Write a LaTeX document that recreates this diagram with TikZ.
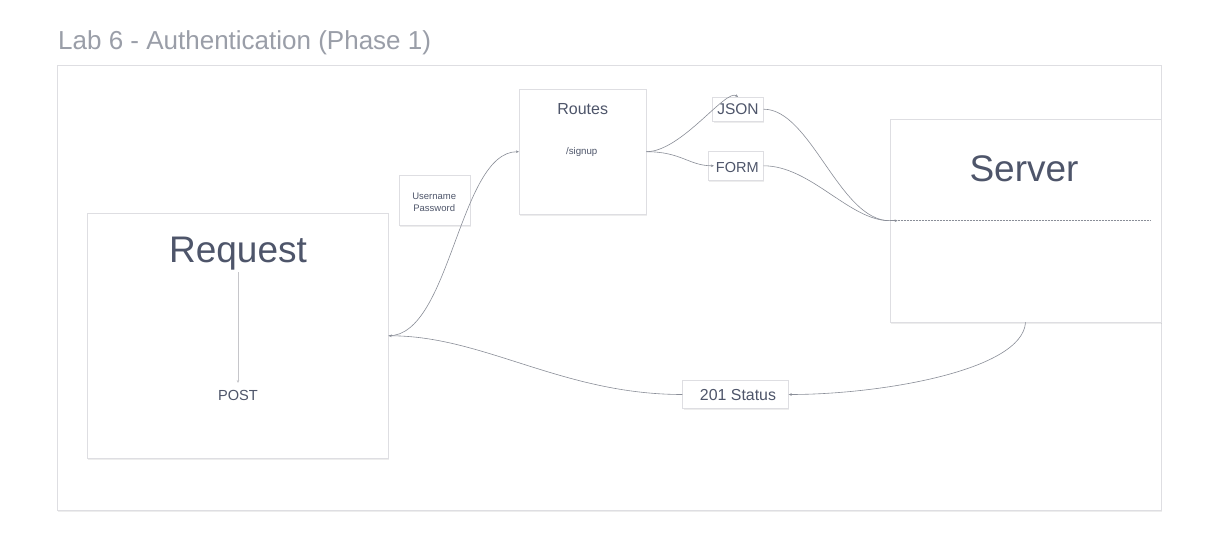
\documentclass[tikz,border=0pt]{standalone}
\usepackage{fontspec}
\setmainfont{Liberation Sans}
\usetikzlibrary{arrows.meta,shadows,calc}
\definecolor{ink}{HTML}{4E556A}
\definecolor{ttl}{HTML}{9A9EA8}
\definecolor{edgec}{HTML}{DEDEE2}
\definecolor{wirec}{HTML}{8A8E98}
\definecolor{postc}{HTML}{C6C6CA}
\newcommand{\fs}[1]{\fontsize{#1}{#1}\selectfont}
\begin{document}
\begin{tikzpicture}[x=1pt,y=-1pt,
  box/.style={draw=edgec, fill=white, line width=0.8pt, inner sep=0pt,
    drop shadow={opacity=0.14,shadow xshift=0.8pt,shadow yshift=-1.8pt}},
  txt/.style={text=ink, inner sep=0pt, anchor=base},
  wire/.style={draw=wirec, line width=0.6pt},
  tip/.style={-{Stealth[length=3pt,width=2.6pt]}}]
\useasboundingbox[fill=white] (0,0) rectangle (1212,556);

\node[anchor=base west, text=ttl, inner sep=0pt, font=\fs{26}] (title) at (58,49.3) {Lab 6 - Authentication (Phase 1)};

\node[box, minimum width=1104pt, minimum height=445pt] (frame) at (609,287.5) {};

\node[box, minimum width=301pt, minimum height=245pt] (req) at (237.8,335.8) {};
\node[box, minimum width=126.7pt, minimum height=124.7pt] (routes) at (582.7,151.7) {};
\node[box, minimum width=71.3pt, minimum height=49.3pt] (cred) at (434.7,200.3) {};
\node[box, minimum width=50.6pt, minimum height=23.7pt] (json) at (738,109.2) {};
\node[box, minimum width=55pt, minimum height=28.3pt] (form) at (735.8,165.8) {};
\node[box, minimum width=271pt, minimum height=202.7pt] (server) at (1025.5,220.7) {};
\node[box, minimum width=105.6pt, minimum height=27.6pt] (status) at (735.5,394.5) {};

\node[txt, font=\fs{37}] (reqt) at (238,262.3) {Request};
\node[txt, font=\fs{14.6}] (postt) at (238,400) {POST};
\node[txt, font=\fs{16}] (routest) at (582.7,115) {Routes};
\node[txt, font=\fs{9.7}] (signupt) at (581.7,155) {/signup};
\node[txt, font=\fs{9.5}] (usert) at (434.2,200) {Username};
\node[txt, font=\fs{9.5}] (passt) at (434.2,211.7) {Password};
\node[txt, font=\fs{15.5}] (jsont) at (738,115) {JSON};
\node[txt, font=\fs{14.5}] (formt) at (737.3,172.3) {FORM};
\node[txt, font=\fs{37}] (servert) at (1024,181.7) {Server};
\node[txt, font=\fs{15.9}] (statust) at (738,400) {201 Status};

\coordinate (p0) at (238,272);
\coordinate (p1) at (238,383);
\draw[draw=postc, line width=0.8pt, tip] (p0) -- (p1);

\coordinate (formin) at ($(form.west)+(6,0)$);
\coordinate (d0) at ($(server.west)+(8,0)$);
\coordinate (d1) at ($(server.east)+(-11,0)$);

\draw[wire,tip] (req.east) .. controls +(62,0) and +(-60,0) .. (routes.west);
\draw[wire,tip] (routes.east) .. controls +(35,0) and +(-12,-9) .. (json.north);
\draw[wire,tip] (routes.east) .. controls +(35,0) and +(-25,0) .. (formin);
\draw[wire] (json.east) .. controls +(47,0) and +(-50,0) .. (server.west);
\draw[wire] (form.east) .. controls +(47,0) and +(-40,0) .. (server.west);
\draw[wire,tip] (server.west) -- (d0);
\draw[wire,dash pattern=on 2pt off 1pt] (d0) -- (d1);
\draw[wire,tip] (server.south) .. controls +(-3,48) and +(92,0) .. (status.east);
\draw[wire,tip] (status.west) .. controls +(-120,0) and +(95,0) .. (req.east);
\end{tikzpicture}
\end{document}
